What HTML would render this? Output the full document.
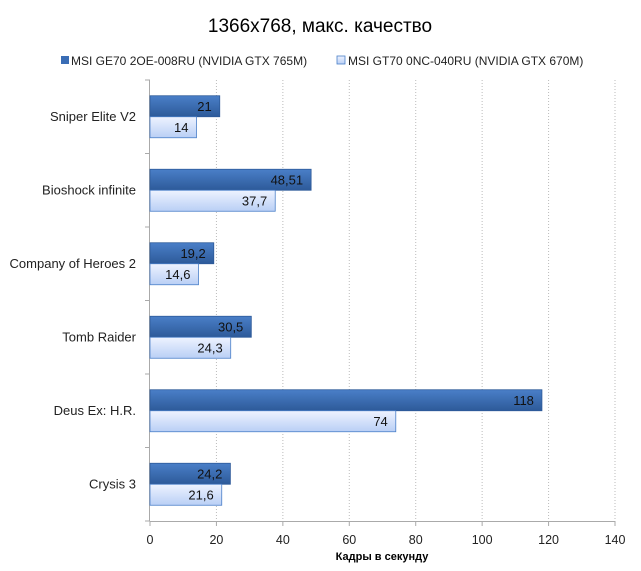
<!DOCTYPE html>
<html><head><meta charset="utf-8"><style>
body{margin:0;background:#fff;font-family:"Liberation Sans",sans-serif}
</style></head><body>
<svg id="c" width="641" height="566" xmlns="http://www.w3.org/2000/svg">
<defs>
<linearGradient id="gd" x1="0" y1="0" x2="0" y2="1"><stop offset="0" stop-color="#4a7fc8"/><stop offset="1" stop-color="#2d5a99"/></linearGradient>
<linearGradient id="gl" x1="0" y1="0" x2="0" y2="1"><stop offset="0" stop-color="#eef3ff"/><stop offset="1" stop-color="#b9cff5"/></linearGradient>
</defs>
<text x="320" y="32" text-anchor="middle" font-size="19" fill="#000">1366x768, макс. качество</text>
<g>
<rect x="61" y="56" width="8" height="8" fill="#3a6db5"/>
<text x="71" y="65" font-size="12" fill="#222">MSI GE70 2OE-008RU (NVIDIA GTX 765M)</text>
<rect x="337" y="56" width="8" height="8" fill="url(#gl)" stroke="#4a7fc8" stroke-width="0.8"/>
<text x="348" y="65" font-size="12" fill="#222">MSI GT70 0NC-040RU (NVIDIA GTX 670M)</text>
</g>
<g id="plot"></g>
<text x="382" y="560" text-anchor="middle" font-size="11" font-weight="bold" fill="#000">Кадры  в секунду</text>
</svg>
<script>
const categories=["Sniper Elite V2","Bioshock infinite","Company of Heroes 2","Tomb Raider","Deus Ex: H.R.","Crysis 3"];
const series765=[21,48.51,19.2,30.5,118,24.2];
const series670=[14,37.7,14.6,24.3,74,21.6];
const labels765=["21","48,51","19,2","30,5","118","24,2"];
const labels670=["14","37,7","14,6","24,3","74","21,6"];
const ticks=[0,20,40,60,80,100,120,140];
const X0=150,X1=615,Y0=80,Y1=521,MAX=140;
const x=v=>X0+v/MAX*(X1-X0);
const band=(Y1-Y0)/categories.length;
const NS="http://www.w3.org/2000/svg";
const g=document.getElementById('plot');
function mk(t,a,p){const e=document.createElementNS(NS,t);for(const k in a)e.setAttribute(k,a[k]);(p||g).appendChild(e);return e;}
ticks.forEach((t,i)=>{
  if(i>0){const l=mk('line',{x1:x(t),x2:x(t),y1:Y0,y2:Y1,stroke:'#bbb','stroke-dasharray':'1,2'});
  
  }
  const tl=mk('line',{x1:x(t),x2:x(t),y1:Y1,y2:Y1+5,stroke:'#aaa'});
  
  
  const tx=mk('text',{x:x(t),y:Y1+23,'text-anchor':'middle','font-size':12.5,fill:'#222'});tx.textContent=t;
  
  
});
const ax=mk('line',{x1:X0-0.5,x2:X0-0.5,y1:Y0,y2:Y1,stroke:'#aaa'});


const bx=mk('line',{x1:X0,x2:X1,y1:Y1+0.5,y2:Y1+0.5,stroke:'#aaa'});


for(let i=0;i<=categories.length;i++){const l=mk('line',{x1:X0-5,x2:X0,y1:Y0+i*band,y2:Y0+i*band,stroke:'#aaa'});

}
categories.forEach((c,i)=>{
  const cy=Y0+band*(i+0.5);
  const t=mk('text',{x:136,y:cy+4,'text-anchor':'end','font-size':13,fill:'#222'});t.textContent=c;
  
  
  const b1=mk('rect',{x:X0,y:cy-21,width:x(series765[i])-X0,height:21,fill:'url(#gd)',stroke:'#2d5a99','stroke-width':0.8});
  
  
  const b2=mk('rect',{x:X0,y:cy,width:x(series670[i])-X0,height:21,fill:'url(#gl)',stroke:'#4a7fc8','stroke-width':0.8});
  
  
  const v1=mk('text',{x:x(series765[i])-8,y:cy-6,'text-anchor':'end','font-size':13,fill:'#111'});v1.textContent=labels765[i];
  
  
  const v2=mk('text',{x:x(series670[i])-8,y:cy+15,'text-anchor':'end','font-size':13,fill:'#111'});v2.textContent=labels670[i];
  
  
});
</script>
</body></html>
